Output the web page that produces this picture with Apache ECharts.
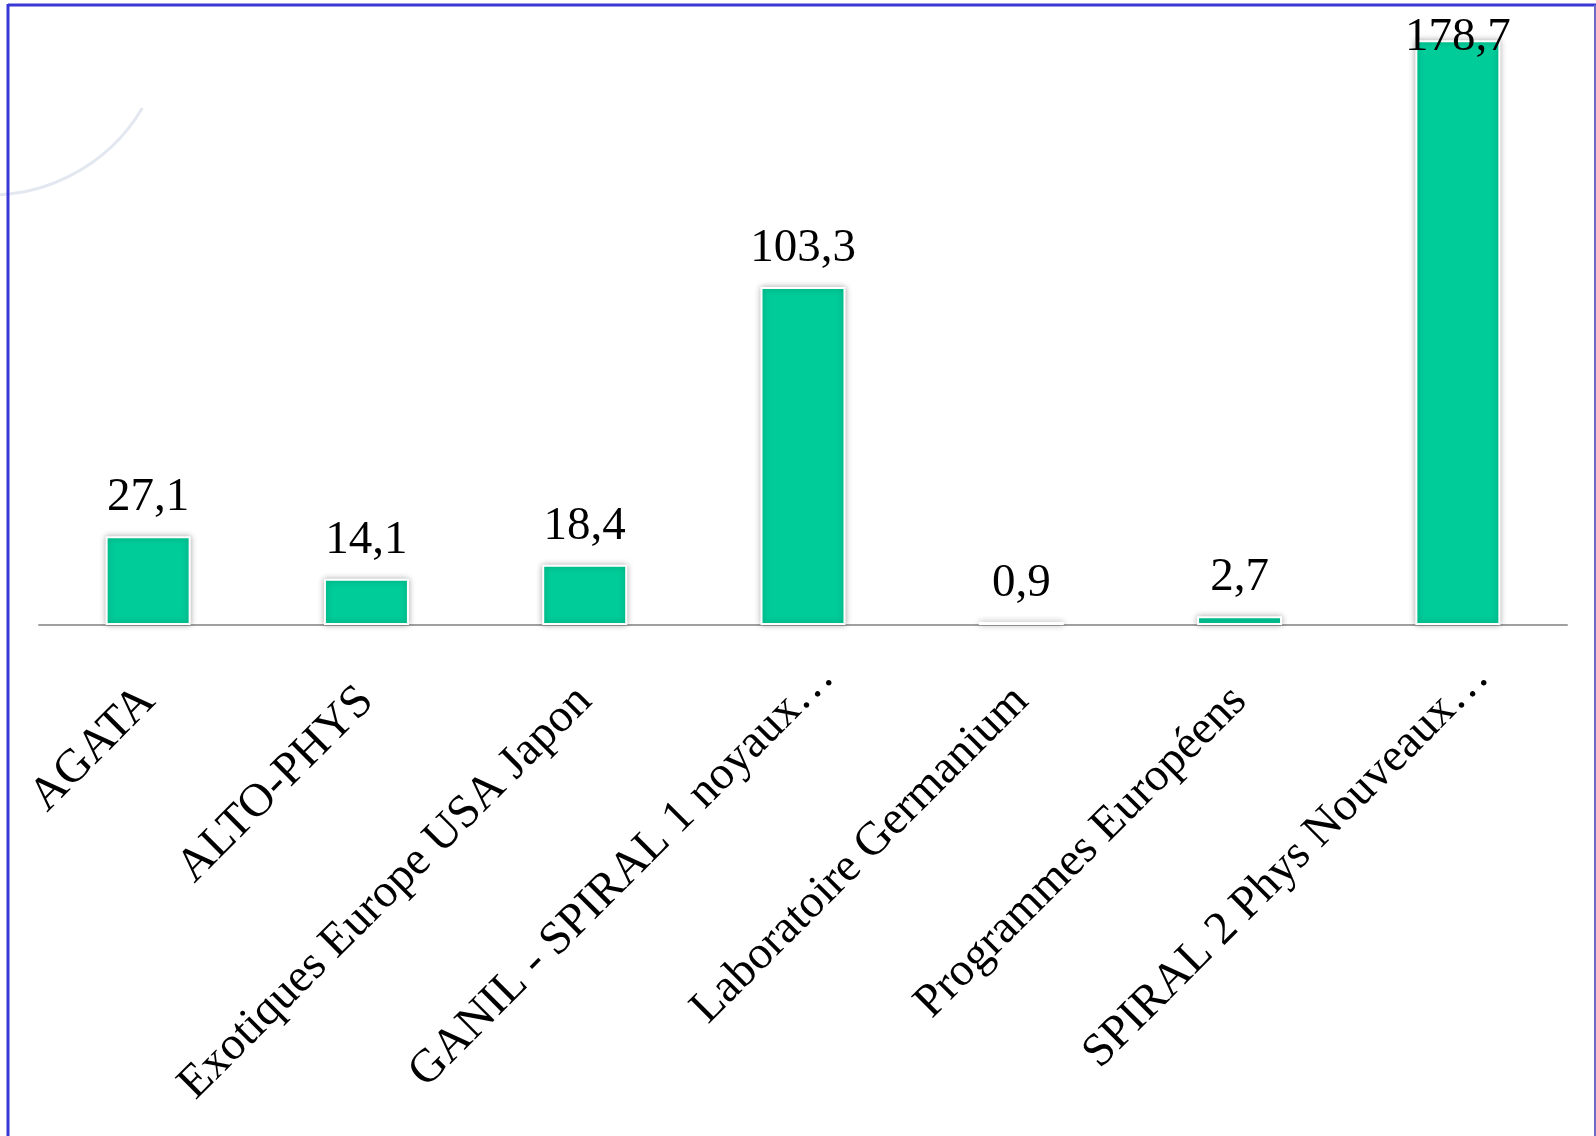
<!DOCTYPE html>
<html style="height: 100%">
<head>
<meta charset="utf-8">
<script src="https://cdn.jsdelivr.net/npm/echarts@6/dist/echarts.min.js"></script>
<style>
  html, body { margin: 0; height: 100%; background: #fff; }
  #container { width: 1596px; height: 1136px; }
</style>
</head>
<body>
<div id="container"></div>
<script type="text/javascript">
var categories = ['AGATA', 'ALTO-PHYS', 'Exotiques Europe USA Japon', 'GANIL - SPIRAL 1 noyaux…',
  'Laboratoire Germanium', 'Programmes Européens', 'SPIRAL 2 Phys Nouveaux…'];
var values = [27.1, 14.1, 18.4, 103.3, 0.9, 2.7, 178.7];

var serif = '"Liberation Serif", "DejaVu Serif", serif';

function fmt(v) {
  return v.toFixed(1).replace('.', ',');
}

// truncated names sit a bit further out along the slant
var catData = categories.map(function (c) {
  if (c.charAt(c.length - 1) === '…') {
    return { value: c, textStyle: { padding: [0, -34, 0, 0] } };
  }
  return c;
});

// the tallest label is squeezed into the frame, over its bar
var barData = values.map(function (v) {
  if (v > 170) {
    return { value: v, label: { distance: -21 } };
  }
  return v;
});

var myChart = echarts.init(document.getElementById('container'));

myChart.setOption({
  animation: false,
  backgroundColor: '#ffffff',
  grid: {
    left: 39,
    right: 29,
    top: 36,
    bottom: 511,
    containLabel: false
  },
  xAxis: {
    type: 'category',
    data: catData,
    axisLine: { lineStyle: { color: '#a0a0a0', width: 2 } },
    axisTick: { show: false },
    axisLabel: {
      rotate: 45,
      margin: 69,
      interval: 0,
      color: '#000',
      fontFamily: serif,
      fontSize: 47
    }
  },
  yAxis: {
    type: 'value',
    min: 0,
    max: 180,
    show: false,
    splitLine: { show: false }
  },
  series: [{
    type: 'bar',
    data: barData,
    barWidth: 85,
    itemStyle: {
      color: '#00cc99',
      borderColor: '#ffffff',
      borderWidth: 2,
      shadowBlur: 6,
      shadowColor: 'rgba(0, 0, 0, 0.3)'
    },
    label: {
      show: true,
      position: 'top',
      distance: 15,
      color: '#000',
      fontFamily: serif,
      fontSize: 47,
      formatter: function (p) { return fmt(p.value); }
    }
  }],
  graphic: [
    {
      type: 'arc',
      silent: true,
      z: -1,
      shape: { cx: -10, cy: 18, r: 177, startAngle: Math.PI * 0.17, endAngle: Math.PI * 0.53 },
      style: { fill: null, stroke: '#e3e7ef', lineWidth: 3 }
    },
    {
      type: 'line',
      silent: true,
      shape: { x1: 8, y1: 5, x2: 1596, y2: 5 },
      style: { stroke: '#3838d6', lineWidth: 3 }
    },
    {
      type: 'line',
      silent: true,
      shape: { x1: 8, y1: 4, x2: 8, y2: 1136 },
      style: { stroke: '#3838d6', lineWidth: 3 }
    },
    {
      type: 'line',
      silent: true,
      shape: { x1: 1595, y1: 5, x2: 1595, y2: 1136 },
      style: { stroke: '#6c6cc8', lineWidth: 2 }
    }
  ]
});
</script>
</body>
</html>
